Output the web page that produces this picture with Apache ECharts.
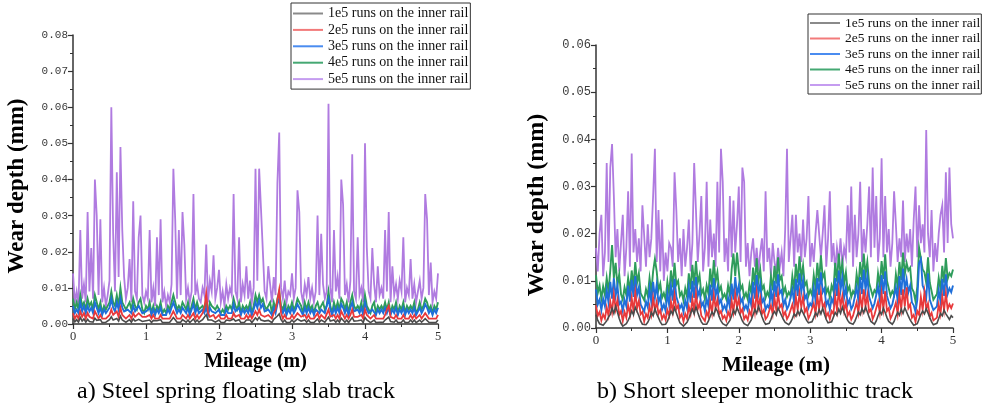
<!DOCTYPE html>
<html>
<head>
<meta charset="utf-8">
<script src="https://cdn.jsdelivr.net/npm/echarts@6/dist/echarts.min.js"></script>
<style>
  html, body { margin: 0; padding: 0; background: #fff; }
  #chart { width: 987px; height: 410px; }
</style>
</head>
<body>
<div id="chart"></div>
<script>
// Sampling interval along the rail (m); wear values below are in micrometres.
const mileageStep = 0.025;

const runLabels = [
  '1e5 runs on the inner rail',
  '2e5 runs on the inner rail',
  '3e5 runs on the inner rail',
  '4e5 runs on the inner rail',
  '5e5 runs on the inner rail'
];

// a) Steel spring floating slab track
const slab1e5 = [
  1.5, 0.6, 1.2, 0.5, 1.8, 0.8, 1.4, 0.5, 1.3, 0.7,
  1.1, 0.5, 1.6, 1.0, 0.6, 1.2, 0.4, 0.9, 0.5, 0.8,
  1.2, 2.0, 1.1, 0.7, 1.5, 0.8, 2.2, 1.1, 0.8, 0.5,
  0.9, 1.2, 0.5, 1.4, 0.8, 0.5, 1.3, 1.6, 0.7, 0.4,
  0.9, 0.6, 1.1, 0.4, 1.0, 0.5, 0.9, 0.6, 1.2, 0.4,
  0.7, 0.4, 0.9, 0.5, 1.1, 1.8, 1.2, 0.5, 1.0, 0.5,
  1.2, 0.9, 0.5, 1.1, 0.4, 0.9, 1.4, 0.5, 1.1, 0.5,
  0.8, 1.2, 1.6, 2.6, 1.1, 0.8, 1.1, 1.0, 0.5, 0.9,
  1.1, 0.5, 0.8, 0.4, 1.1, 0.6, 0.9, 0.5, 1.4, 0.8,
  0.6, 1.2, 0.4, 0.9, 0.5, 1.1, 0.6, 1.1, 0.4, 0.9,
  1.7, 1.1, 1.9, 1.1, 1.4, 0.8, 0.5, 1.0, 1.1, 0.4,
  1.3, 1.5, 2.2, 2.8, 1.2, 0.5, 1.1, 0.4, 0.8, 0.5,
  1.1, 0.5, 0.8, 1.4, 1.1, 0.8, 0.4, 1.1, 0.5, 1.1,
  0.5, 0.9, 0.4, 0.8, 1.4, 0.5, 1.1, 1.3, 0.5, 0.8,
  1.9, 0.8, 0.4, 1.1, 0.5, 1.1, 0.5, 1.6, 1.1, 0.5,
  1.1, 0.4, 1.1, 1.8, 0.8, 0.5, 0.9, 0.5, 1.1, 0.4,
  1.8, 1.1, 0.8, 0.4, 0.9, 1.1, 0.4, 0.9, 0.5, 0.8,
  0.5, 1.1, 1.4, 1.9, 0.7, 1.0, 0.5, 1.1, 0.4, 0.9,
  0.5, 1.1, 0.4, 0.9, 0.5, 1.1, 0.5, 1.1, 0.4, 0.6,
  1.1, 0.5, 0.9, 1.5, 1.1, 0.5, 0.9, 0.4, 0.9, 0.5,
  1.1
];
const slab2e5 = [
  3.0, 1.5, 2.5, 1.5, 3.5, 2.0, 3.0, 1.5, 3.0, 2.0,
  2.5, 1.5, 3.5, 2.5, 1.5, 2.5, 1.5, 2.0, 1.5, 2.0,
  2.5, 4.0, 2.5, 2.0, 3.5, 2.0, 4.5, 2.5, 2.0, 1.5,
  2.0, 2.5, 1.5, 3.0, 2.0, 1.5, 3.0, 3.5, 2.0, 1.5,
  2.0, 1.5, 2.5, 1.5, 2.5, 1.5, 2.0, 1.5, 2.5, 1.5,
  1.5, 1.5, 2.0, 1.5, 2.5, 3.5, 2.5, 1.5, 2.0, 1.5,
  2.5, 2.0, 1.5, 2.5, 1.5, 2.0, 3.0, 1.5, 2.5, 1.5,
  2.0, 3.0, 4.5, 8.5, 3.0, 2.0, 2.5, 2.5, 1.5, 2.0,
  2.5, 1.5, 2.0, 1.5, 2.5, 1.5, 2.0, 1.5, 3.0, 2.0,
  1.5, 2.5, 1.5, 2.0, 1.5, 2.5, 1.5, 2.5, 1.5, 2.0,
  3.5, 2.5, 4.0, 2.5, 3.0, 2.0, 1.5, 2.5, 2.5, 1.5,
  3.0, 4.0, 6.5, 9.5, 3.0, 1.5, 2.5, 1.5, 2.0, 1.5,
  2.5, 1.5, 2.0, 3.0, 2.5, 2.0, 1.5, 2.5, 1.5, 2.5,
  1.5, 2.0, 1.5, 2.0, 3.0, 1.5, 2.5, 3.0, 1.5, 2.0,
  4.0, 2.0, 1.5, 2.5, 1.5, 2.5, 1.5, 3.5, 2.5, 1.5,
  2.5, 1.5, 2.5, 4.0, 2.0, 1.5, 2.0, 1.5, 2.5, 1.5,
  4.0, 2.5, 2.0, 1.5, 2.0, 2.5, 1.5, 2.0, 1.5, 2.0,
  1.5, 2.5, 4.0, 5.0, 2.0, 2.5, 1.5, 2.5, 1.5, 2.0,
  1.5, 2.5, 1.5, 2.0, 1.5, 2.5, 1.5, 2.5, 1.5, 1.5,
  2.5, 1.5, 2.0, 3.0, 2.5, 1.5, 2.0, 1.5, 2.0, 1.5,
  2.5
];
const slab3e5 = [
  5.0, 3.0, 4.0, 3.0, 6.0, 3.5, 5.0, 3.0, 5.0, 3.5,
  4.5, 3.0, 6.0, 4.5, 3.0, 4.5, 2.5, 4.0, 3.0, 3.5,
  4.5, 7.0, 4.5, 3.5, 6.0, 4.0, 7.0, 4.5, 3.5, 3.0,
  4.0, 4.5, 3.0, 5.0, 3.5, 3.0, 5.0, 5.5, 3.0, 2.5,
  3.5, 3.0, 4.5, 2.5, 4.0, 2.5, 4.0, 3.0, 4.5, 2.5,
  3.0, 2.5, 4.0, 3.0, 4.5, 6.0, 4.5, 3.0, 4.0, 3.0,
  4.5, 4.0, 3.0, 4.5, 2.5, 4.0, 5.5, 3.0, 4.5, 3.0,
  3.0, 4.0, 3.0, 4.5, 2.5, 4.5, 3.5, 4.0, 3.0, 3.5,
  4.0, 2.5, 3.0, 2.5, 4.0, 3.0, 3.5, 3.0, 5.5, 3.5,
  3.0, 4.5, 2.5, 4.0, 3.0, 4.0, 3.0, 4.5, 2.5, 4.0,
  6.0, 4.5, 6.5, 4.5, 5.5, 3.5, 3.0, 4.0, 4.5, 2.5,
  4.5, 3.0, 5.5, 7.0, 4.0, 3.0, 4.5, 2.5, 4.0, 3.0,
  4.5, 3.0, 4.0, 5.5, 4.5, 3.5, 2.5, 4.5, 3.0, 4.5,
  3.0, 4.0, 2.5, 4.0, 4.5, 3.0, 4.0, 4.5, 3.0, 3.5,
  7.0, 4.0, 2.5, 4.5, 3.0, 4.5, 3.0, 5.5, 4.5, 3.0,
  4.5, 2.5, 4.5, 6.0, 3.5, 3.0, 4.0, 3.0, 4.5, 2.5,
  6.0, 4.0, 3.0, 2.5, 4.0, 4.5, 2.5, 4.0, 3.0, 4.0,
  3.0, 4.5, 3.0, 4.5, 2.5, 4.0, 3.0, 4.5, 2.5, 4.0,
  3.0, 4.5, 2.5, 4.0, 3.0, 4.0, 3.0, 4.5, 2.5, 3.0,
  4.5, 3.0, 4.0, 5.5, 4.5, 3.0, 4.0, 2.5, 4.0, 3.0,
  4.5
];
const slab4e5 = [
  7, 4, 6, 4, 8, 5, 6, 4, 7, 5,
  6, 4, 8, 6, 4, 6, 3, 5, 4, 5,
  6, 9, 6, 5, 8, 5, 10, 6, 5, 4,
  5, 6, 4, 7, 5, 4, 6, 7, 4, 3,
  5, 4, 6, 3, 5, 3, 5, 4, 6, 3,
  4, 3, 5, 4, 6, 8, 6, 4, 5, 4,
  6, 5, 4, 6, 3, 5, 7, 4, 6, 4,
  4, 5, 4, 6, 3, 6, 5, 5, 4, 5,
  5, 3, 4, 3, 5, 4, 5, 4, 7, 5,
  4, 6, 3, 5, 4, 5, 4, 6, 3, 5,
  8, 6, 8, 6, 7, 5, 4, 5, 6, 3,
  6, 4, 7, 9, 5, 4, 6, 3, 5, 4,
  6, 4, 5, 7, 6, 5, 3, 6, 4, 6,
  4, 5, 3, 5, 6, 4, 5, 6, 4, 5,
  9, 5, 3, 6, 4, 6, 4, 7, 6, 4,
  6, 3, 6, 8, 5, 4, 5, 4, 6, 3,
  8, 5, 4, 3, 5, 6, 3, 5, 4, 5,
  4, 6, 4, 6, 3, 5, 4, 6, 3, 5,
  4, 6, 3, 5, 4, 5, 4, 6, 3, 4,
  6, 4, 5, 7, 6, 4, 5, 3, 5, 4,
  6
];
const slab5e5 = [
  14, 6, 9, 5, 26, 7, 11, 6, 31, 9,
  21, 7, 40, 30, 8, 29, 6, 10, 5, 8,
  12, 60, 25, 9, 42, 13, 49, 26, 13, 7,
  10, 18, 6, 34, 9, 7, 24, 30, 8, 6,
  9, 7, 26, 6, 10, 5, 24, 8, 29, 6,
  9, 5, 8, 6, 11, 43, 29, 7, 26, 8,
  31, 22, 7, 10, 6, 9, 36, 8, 11, 7,
  6, 10, 8, 22, 6, 12, 9, 19, 7, 10,
  15, 6, 9, 5, 11, 7, 10, 8, 36, 9,
  7, 24, 6, 11, 8, 16, 7, 12, 6, 10,
  43, 12, 43, 32, 32, 9, 7, 16, 11, 6,
  13, 8, 39, 53, 10, 7, 12, 6, 9, 8,
  14, 7, 10, 37, 31, 9, 6, 11, 8, 13,
  7, 10, 6, 9, 30, 8, 25, 11, 7, 9,
  61, 10, 6, 26, 9, 13, 7, 40, 33, 8,
  11, 6, 12, 47, 9, 7, 24, 8, 10, 6,
  50, 21, 9, 7, 21, 11, 6, 16, 8, 10,
  7, 26, 9, 31, 6, 16, 8, 11, 7, 12,
  9, 24, 6, 10, 8, 18, 7, 11, 6, 9,
  12, 7, 10, 36, 29, 8, 17, 6, 9, 7,
  14
];

// b) Short sleeper monolithic track
const sleeper1e5 = [
  2.8, 1.6, 0.9, 0.5, 0.6, 1.0, 1.5, 2.3, 2.9, 4.2,
  3.1, 4.6, 3.4, 2.0, 1.0, 0.4, 0.6, 0.9, 1.6, 2.4,
  3.6, 2.8, 4.4, 3.5, 2.6, 1.5, 0.8, 0.4, 0.7, 1.2,
  2.0, 3.3, 2.6, 4.1, 3.0, 2.2, 1.3, 0.7, 0.5, 0.8,
  1.4, 2.4, 3.6, 2.9, 4.3, 3.2, 2.1, 1.1, 0.7, 0.4,
  0.7, 1.2, 2.0, 3.1, 4.0, 3.0, 4.5, 3.3, 2.2, 1.3,
  0.8, 0.5, 0.8, 1.5, 2.5, 3.4, 2.7, 4.2, 3.6, 2.4,
  1.5, 0.9, 0.6, 0.5, 0.9, 1.6, 2.6, 3.8, 3.0, 4.4,
  3.4, 2.5, 1.5, 0.9, 0.6, 0.5, 0.9, 1.7, 2.8, 3.9,
  3.1, 4.6, 3.5, 2.4, 1.4, 0.8, 0.6, 1.0, 1.8, 2.9,
  3.5, 2.8, 4.3, 3.4, 2.6, 1.8, 1.2, 0.9, 0.7, 1.2,
  2.0, 3.0, 2.5, 3.6, 2.8, 4.0, 3.2, 2.4, 1.6, 1.1,
  0.8, 1.3, 2.2, 3.2, 2.6, 3.9, 3.0, 4.2, 2.9, 1.8,
  1.1, 0.8, 1.3, 2.3, 3.3, 2.7, 4.0, 3.1, 4.4, 3.3,
  2.4, 1.6, 1.1, 0.9, 0.8, 1.4, 2.4, 3.4, 2.8, 4.1,
  3.2, 4.5, 3.4, 2.3, 1.4, 1.0, 0.8, 1.5, 2.6, 3.5,
  2.9, 4.2, 3.3, 2.2, 1.4, 1.0, 0.8, 1.4, 2.5, 3.3,
  2.7, 4.0, 3.1, 4.3, 3.4, 2.5, 1.7, 1.1, 0.6, 0.3,
  0.9, 1.9, 2.9, 3.6, 3.0, 4.1, 3.2, 2.2, 1.3, 0.7,
  0.4, 1.0, 2.0, 3.1, 2.6, 3.8, 3.0, 2.4, 1.8, 2.6,
  2.2
];
const sleeper2e5 = [
  4.8, 2.6, 3.4, 1.6, 2.9, 2.0, 4.4, 2.6, 5.6, 3.4,
  7.2, 4.0, 6.0, 2.8, 3.6, 1.5, 3.4, 2.2, 4.8, 2.9,
  6.4, 3.6, 7.6, 4.2, 5.8, 2.9, 3.4, 1.4, 3.0, 2.2,
  4.6, 2.8, 6.4, 3.8, 5.6, 3.0, 3.8, 1.9, 2.8, 1.7,
  3.8, 2.6, 5.6, 3.4, 7.0, 4.0, 4.8, 2.2, 2.9, 1.4,
  3.0, 2.0, 4.6, 3.0, 6.2, 3.6, 7.4, 4.0, 5.2, 2.6,
  3.0, 1.5, 3.4, 2.4, 5.6, 3.2, 7.0, 4.2, 6.0, 3.0,
  3.6, 2.0, 2.6, 1.6, 3.4, 2.4, 5.8, 3.4, 7.2, 4.4,
  6.2, 3.2, 4.0, 1.9, 2.6, 1.7, 3.6, 2.6, 6.0, 3.4,
  7.6, 4.4, 6.4, 3.0, 3.8, 1.9, 2.4, 2.2, 4.8, 2.9,
  6.4, 3.8, 7.4, 4.4, 5.0, 2.6, 3.4, 1.9, 2.6, 2.3,
  5.0, 3.0, 6.6, 3.8, 7.4, 4.4, 6.6, 3.4, 4.2, 2.0,
  2.8, 2.4, 5.2, 3.0, 6.8, 4.0, 7.6, 4.4, 5.2, 2.4,
  3.2, 1.9, 3.6, 3.0, 6.8, 3.8, 8.0, 4.6, 6.8, 3.6,
  5.4, 2.6, 3.4, 1.8, 2.6, 2.4, 5.4, 3.2, 7.0, 4.0,
  8.2, 4.6, 7.0, 3.4, 4.0, 1.9, 2.8, 2.6, 5.6, 3.2,
  7.4, 4.0, 7.8, 3.6, 4.2, 2.0, 2.8, 2.4, 5.4, 3.0,
  7.2, 4.0, 8.2, 4.6, 8.6, 4.2, 5.0, 2.2, 2.8, 1.3,
  3.6, 2.8, 6.6, 3.8, 7.6, 4.0, 5.2, 2.4, 3.2, 1.6,
  2.0, 2.2, 5.0, 3.0, 6.8, 3.8, 7.4, 4.0, 5.0, 4.2,
  5.2
];
const sleeper3e5 = [
  8.2, 5.0, 6.0, 3.8, 6.2, 4.6, 8.0, 5.4, 9.8, 6.2,
  10.6, 6.8, 9.0, 5.0, 5.6, 3.6, 6.0, 4.6, 9.0, 5.6,
  10.2, 6.6, 11.0, 7.0, 8.6, 5.0, 5.2, 3.5, 5.6, 4.4,
  8.4, 5.4, 9.8, 6.4, 9.2, 5.4, 6.6, 3.9, 5.0, 3.6,
  7.4, 4.8, 9.0, 5.8, 10.4, 6.6, 7.0, 4.2, 5.0, 3.4,
  5.8, 4.2, 8.6, 5.4, 10.0, 6.4, 10.8, 6.8, 8.0, 4.6,
  5.4, 3.6, 6.2, 4.6, 9.2, 5.8, 10.6, 6.8, 8.6, 5.2,
  6.0, 3.9, 4.8, 3.7, 6.4, 4.4, 9.4, 6.0, 10.8, 7.0,
  9.0, 5.4, 6.2, 3.9, 4.8, 3.7, 6.6, 4.8, 9.8, 6.2,
  11.2, 7.2, 9.4, 5.4, 6.2, 3.9, 4.8, 4.2, 8.0, 5.2,
  10.0, 6.6, 11.4, 7.4, 8.0, 4.8, 6.0, 4.0, 4.8, 4.4,
  8.2, 5.4, 10.4, 6.8, 11.6, 7.6, 10.2, 6.2, 7.0, 4.2,
  5.2, 4.6, 8.4, 5.8, 10.6, 7.0, 11.8, 7.6, 8.4, 4.8,
  5.8, 3.9, 6.2, 5.2, 10.6, 6.8, 12.2, 8.0, 10.8, 6.4,
  8.6, 5.0, 6.0, 4.0, 4.8, 4.6, 8.6, 5.8, 10.8, 7.2,
  12.4, 8.0, 11.0, 6.6, 7.0, 4.2, 5.2, 4.8, 8.8, 6.0,
  11.2, 7.2, 12.0, 6.8, 7.0, 4.2, 5.0, 4.6, 8.6, 5.8,
  11.0, 7.0, 12.6, 8.2, 10.4, 7.6, 9.0, 5.4, 4.8, 3.4,
  6.0, 13.8, 14.6, 9.0, 8.0, 6.4, 11.6, 6.0, 6.2, 3.8,
  3.6, 4.6, 8.0, 5.6, 10.4, 6.8, 11.4, 7.2, 8.4, 7.6,
  9.0
];
const sleeper4e5 = [
  11.2, 7.4, 9.0, 6.2, 8.8, 7.0, 10.6, 7.6, 12.2, 17.6,
  10.6, 13.8, 9.0, 11.4, 7.2, 6.0, 8.6, 7.0, 10.6, 7.8,
  12.2, 8.8, 14.0, 9.6, 11.6, 7.4, 7.8, 5.9, 8.2, 6.8,
  10.6, 7.6, 12.0, 14.6, 12.0, 8.0, 9.4, 6.4, 7.4, 6.0,
  9.8, 7.2, 12.2, 8.6, 13.8, 9.2, 10.0, 6.8, 7.6, 5.8,
  8.4, 6.6, 11.6, 8.2, 13.4, 9.0, 14.2, 9.6, 11.2, 7.2,
  8.2, 6.1, 9.0, 7.2, 12.6, 8.6, 14.4, 9.8, 11.8, 7.8,
  8.8, 6.4, 7.2, 6.1, 9.0, 7.0, 12.4, 15.8, 11.0, 16.0,
  12.0, 8.2, 9.0, 6.4, 7.4, 6.1, 9.2, 7.4, 12.8, 9.0,
  14.8, 10.0, 12.4, 8.2, 9.0, 6.4, 7.6, 6.6, 11.0, 8.0,
  13.2, 9.4, 15.0, 10.2, 11.0, 7.4, 8.6, 6.6, 7.6, 6.8,
  11.0, 8.2, 13.6, 9.6, 15.2, 10.4, 13.2, 9.0, 9.8, 6.8,
  8.0, 7.0, 11.2, 8.4, 13.8, 9.8, 15.4, 10.6, 11.6, 7.4,
  8.4, 6.4, 9.0, 7.8, 13.8, 9.8, 15.8, 11.0, 13.8, 9.4,
  11.8, 7.8, 8.8, 6.6, 7.8, 7.0, 11.4, 8.6, 14.0, 10.2,
  15.8, 11.2, 14.0, 9.6, 10.0, 6.8, 8.0, 7.4, 11.6, 9.0,
  14.2, 10.4, 15.6, 10.0, 10.2, 6.8, 7.8, 7.0, 11.4, 8.8,
  14.0, 10.2, 16.0, 11.4, 13.8, 12.2, 12.8, 8.4, 7.6, 5.6,
  8.8, 17.0, 17.4, 12.4, 11.8, 9.6, 15.0, 9.6, 9.2, 6.0,
  5.8, 7.2, 10.6, 8.2, 13.2, 9.6, 14.8, 10.4, 11.6, 11.0,
  12.4
];
const sleeper5e5 = [
  17, 12, 20, 24, 11, 16, 35, 14, 34, 39,
  28, 15, 21, 12, 18, 24, 11, 17, 29, 13,
  37, 16, 21, 14, 19, 12, 26, 26, 13, 22,
  15, 19, 28, 38, 14, 25, 12, 23, 10, 16,
  12, 18, 17, 13, 33, 25, 14, 19, 11, 21,
  13, 17, 23, 12, 18, 35, 25, 14, 20, 28,
  12, 17, 31, 13, 23, 15, 20, 13, 31, 16,
  38, 31, 14, 19, 12, 28, 15, 27, 16, 22,
  30, 14, 34, 31, 13, 18, 11, 16, 19, 13,
  17, 12, 16, 19, 12, 29, 14, 17, 11, 18,
  14, 12, 17, 13, 16, 11, 21, 38, 14, 19,
  24, 13, 24, 16, 20, 14, 23, 15, 19, 28,
  13, 18, 14, 20, 25, 25, 15, 20, 26, 13,
  19, 29, 14, 18, 12, 17, 14, 19, 13, 17,
  15, 26, 16, 30, 13, 24, 15, 20, 31, 14,
  21, 16, 22, 30, 15, 34, 17, 28, 14, 19,
  36, 15, 28, 16, 21, 13, 18, 29, 22, 14,
  19, 15, 27, 14, 20, 16, 21, 13, 23, 30,
  15, 26, 18, 22, 16, 42, 20, 15, 25, 12,
  18, 14, 20, 24, 26, 16, 33, 18, 34, 22,
  19
];

const runColors = ['#4b4b4b', '#e8393b', '#1f6fd9', '#2e9c5b', '#b07be0'];
const legendColors = ['#8a8a8a', '#f27a7a', '#4a8cf0', '#45a873', '#c59cf0'];
const runWidths = [1.6, 1.8, 1.9, 1.9, 1.8];

const panels = [
  { runs: [slab1e5, slab2e5, slab3e5, slab4e5, slab5e5] },
  { runs: [sleeper1e5, sleeper2e5, sleeper3e5, sleeper4e5, sleeper5e5] }
];

// micrometres -> [mileage m, wear mm]
function toPoints(values) {
  return values.map((v, i) => [+(i * mileageStep).toFixed(3), v / 1000]);
}

const serif = '"Liberation Serif", "Times New Roman", serif';
const axisColor = '#333';

function xAxisFor(gridIndex, labelSize) {
  return {
    type: 'value', gridIndex, min: 0, max: 5, interval: 1,
    axisLine: { show: true, onZero: false, lineStyle: { color: axisColor, width: 1.5 } },
    axisTick: { show: true, length: 5, lineStyle: { color: axisColor, width: 1.2 } },
    minorTick: { show: true, splitNumber: 2, length: 3, lineStyle: { color: axisColor, width: 1 } },
    splitLine: { show: false },
    axisLabel: { fontFamily: serif, fontSize: labelSize, color: '#333', margin: 6 }
  };
}
function yAxisFor(gridIndex, max, labelSize) {
  return {
    type: 'value', gridIndex, min: 0, max, interval: 0.01,
    axisLine: { show: true, lineStyle: { color: axisColor, width: 1.5 } },
    axisTick: { show: true, length: 5, lineStyle: { color: axisColor, width: 1.2 } },
    minorTick: { show: true, splitNumber: 2, length: 3, lineStyle: { color: axisColor, width: 1 } },
    splitLine: { show: false },
    axisLabel: {
      fontFamily: '"Liberation Mono", "DejaVu Sans Mono", monospace',
      fontSize: labelSize, color: '#3a3a3a', margin: 5,
      formatter: v => v.toFixed(2)
    }
  };
}

const series = [];
panels.forEach((panel, p) => {
  // highest run count drawn first so lower curves sit on top
  for (let k = 4; k >= 0; k--) {
    series.push({
      name: runLabels[k],
      type: 'line',
      xAxisIndex: p, yAxisIndex: p,
      data: toPoints(panel.runs[k]),
      showSymbol: false, symbol: 'none',
      lineStyle: { color: runColors[k], width: runWidths[k], join: 'miter' },
      itemStyle: { color: runColors[k] },
      emphasis: { disabled: true },
      silent: true
    });
  }
});

function legendFor(left, top, fontSize, gap, pad) {
  return {
    orient: 'vertical', left, top, padding: pad,
    itemWidth: 30, itemHeight: 2, itemGap: gap, icon: 'rect',
    borderColor: '#333', borderWidth: 1, backgroundColor: '#fff',
    selectedMode: false,
    textStyle: { fontFamily: serif, fontSize, color: '#111', lineHeight: fontSize },
    data: runLabels.map((n, k) => ({ name: n, itemStyle: { color: legendColors[k] } }))
  };
}

const chart = echarts.init(document.getElementById('chart'), null, { renderer: 'canvas' });
chart.setOption({
  animation: false,
  backgroundColor: '#fff',
  grid: [
    { left: 73, top: 35, width: 365, height: 289 },
    { left: 596, top: 45, width: 357, height: 283 }
  ],
  xAxis: [xAxisFor(0, 12.5), xAxisFor(1, 13)],
  yAxis: [yAxisFor(0, 0.08, 11), yAxisFor(1, 0.06, 12)],
  legend: [
    legendFor(291, 3, 14, 2.4, [3.5, 2, 3, 2]),
    legendFor(808, 14, 13.5, 1.5, [2, 1, 2, 2])
  ],
  series,
  graphic: [
    { type: 'text', x: 17.5, y: 186, rotation: Math.PI / 2,
      style: { text: 'Wear depth (mm)', font: 'bold 23px ' + serif, fill: '#000', align: 'center', verticalAlign: 'middle' } },
    { type: 'text', x: 537, y: 205, rotation: Math.PI / 2,
      style: { text: 'Wear depth (mm)', font: 'bold 24px ' + serif, fill: '#000', align: 'center', verticalAlign: 'middle' } },
    { type: 'text', x: 255.5, y: 362,
      style: { text: 'Mileage (m)', font: 'bold 20px ' + serif, fill: '#000', align: 'center', verticalAlign: 'middle' } },
    { type: 'text', x: 776, y: 366,
      style: { text: 'Mileage (m)', font: 'bold 21px ' + serif, fill: '#000', align: 'center', verticalAlign: 'middle' } },
    { type: 'text', x: 236, y: 392,
      style: { text: 'a) Steel spring floating slab track', font: '24px ' + serif, fill: '#000', align: 'center', verticalAlign: 'middle' } },
    { type: 'text', x: 755, y: 392,
      style: { text: 'b) Short sleeper monolithic track', font: '24px ' + serif, fill: '#000', align: 'center', verticalAlign: 'middle' } }
  ]
});
</script>
</body>
</html>
